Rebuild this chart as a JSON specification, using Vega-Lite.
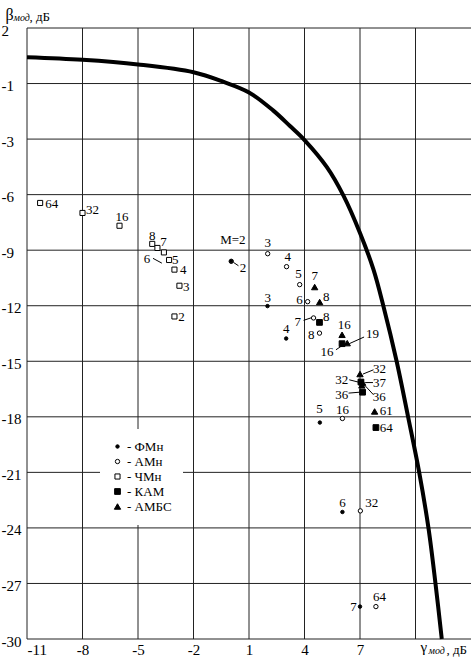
{
  "$schema": "https://vega.github.io/schema/vega-lite/v6.json",
  "width": 444,
  "height": 611,
  "autosize": {"type": "none"},
  "padding": {"left": 27, "top": 28, "right": 2, "bottom": 22},
  "background": "white",
  "config": {
    "view": {"stroke": null},
    "font": "Liberation Serif",
    "axis": {"labelFont": "Liberation Serif", "titleFont": "Liberation Serif", "labelColor": "black", "titleColor": "black", "titleFontWeight": "normal"},
    "legend": {"labelFont": "Liberation Serif"}
  },
  "datasets": {
    "grid": [
      {"g": "v1", "x": -11, "y": -30}, {"g": "v1", "x": -11, "y": 3},
      {"g": "v2", "x": -8, "y": -30}, {"g": "v2", "x": -8, "y": 3},
      {"g": "v3", "x": -5, "y": -30}, {"g": "v3", "x": -5, "y": 3},
      {"g": "v4", "x": -2, "y": -30}, {"g": "v4", "x": -2, "y": 3},
      {"g": "v5", "x": 1, "y": -30}, {"g": "v5", "x": 1, "y": 3},
      {"g": "v6", "x": 4, "y": -30}, {"g": "v6", "x": 4, "y": 3},
      {"g": "v7", "x": 7, "y": -30}, {"g": "v7", "x": 7, "y": 3},
      {"g": "v8", "x": 10, "y": -30}, {"g": "v8", "x": 10, "y": 3},
      {"g": "h1", "x": -11, "y": 3}, {"g": "h1", "x": 13, "y": 3},
      {"g": "h2", "x": -11, "y": 0}, {"g": "h2", "x": 13, "y": 0},
      {"g": "h3", "x": -11, "y": -3}, {"g": "h3", "x": 13, "y": -3},
      {"g": "h4", "x": -11, "y": -6}, {"g": "h4", "x": 13, "y": -6},
      {"g": "h5", "x": -11, "y": -9}, {"g": "h5", "x": 13, "y": -9},
      {"g": "h6", "x": -11, "y": -12}, {"g": "h6", "x": 13, "y": -12},
      {"g": "h7", "x": -11, "y": -15}, {"g": "h7", "x": 13, "y": -15},
      {"g": "h8", "x": -11, "y": -18}, {"g": "h8", "x": 13, "y": -18},
      {"g": "h9", "x": -11, "y": -21}, {"g": "h9", "x": 13, "y": -21},
      {"g": "h10", "x": -11, "y": -24}, {"g": "h10", "x": 13, "y": -24},
      {"g": "h11", "x": -11, "y": -27}, {"g": "h11", "x": 13, "y": -27},
      {"g": "h12", "x": -11, "y": -30}, {"g": "h12", "x": 13, "y": -30}
    ],
    "curve": [
      {"x": -11, "y": 1.42}, {"x": -8, "y": 1.28}, {"x": -5, "y": 1.03}, {"x": -2, "y": 0.61},
      {"x": -0.4, "y": 0.1}, {"x": 1, "y": -0.48}, {"x": 2.3, "y": -1.45}, {"x": 3.2, "y": -2.28},
      {"x": 4.0, "y": -3.05}, {"x": 5.2, "y": -4.5}, {"x": 6.1, "y": -6.04}, {"x": 7.0, "y": -8.07},
      {"x": 7.73, "y": -10.05}, {"x": 8.27, "y": -12.04}, {"x": 8.98, "y": -15.0}, {"x": 9.6, "y": -18.0},
      {"x": 10.2, "y": -21}, {"x": 10.7, "y": -24}, {"x": 11.08, "y": -27}, {"x": 11.42, "y": -30}
    ],
    "points": [
      {"s": "АМн", "M": 2, "x": 0.04, "y": -9.6},
      {"s": "АМн", "M": 3, "x": 2.01, "y": -9.19},
      {"s": "АМн", "M": 4, "x": 3.03, "y": -9.89},
      {"s": "АМн", "M": 5, "x": 3.74, "y": -10.86},
      {"s": "АМн", "M": 6, "x": 4.17, "y": -11.78},
      {"s": "АМн", "M": 7, "x": 4.49, "y": -12.66},
      {"s": "АМн", "M": 8, "x": 4.81, "y": -13.48},
      {"s": "АМн", "M": 16, "x": 6.05, "y": -18.09},
      {"s": "АМн", "M": 32, "x": 7.02, "y": -23.08},
      {"s": "АМн", "M": 64, "x": 7.86, "y": -28.25},
      {"s": "ФМн", "M": 2, "x": 0.04, "y": -9.6},
      {"s": "ФМн", "M": 3, "x": 2.0, "y": -12.02},
      {"s": "ФМн", "M": 4, "x": 3.01, "y": -13.77},
      {"s": "ФМн", "M": 5, "x": 4.83, "y": -18.31},
      {"s": "ФМн", "M": 6, "x": 6.05, "y": -23.14},
      {"s": "ФМн", "M": 7, "x": 7.0, "y": -28.25},
      {"s": "ЧМн", "M": 64, "x": -10.29, "y": -6.45},
      {"s": "ЧМн", "M": 32, "x": -8.0, "y": -6.99},
      {"s": "ЧМн", "M": 16, "x": -6.0, "y": -7.68},
      {"s": "ЧМн", "M": 8, "x": -4.23, "y": -8.66},
      {"s": "ЧМн", "M": 7, "x": -3.95, "y": -8.88},
      {"s": "ЧМн", "M": 6, "x": -3.6, "y": -9.12},
      {"s": "ЧМн", "M": 5, "x": -3.32, "y": -9.53},
      {"s": "ЧМн", "M": 4, "x": -3.03, "y": -10.05},
      {"s": "ЧМн", "M": 3, "x": -2.76, "y": -10.92},
      {"s": "ЧМн", "M": 2, "x": -3.03, "y": -12.58},
      {"s": "КАМ", "M": 8, "x": 4.81, "y": -12.9},
      {"s": "КАМ", "M": 16, "x": 6.03, "y": -14.05},
      {"s": "КАМ", "M": 32, "x": 7.05, "y": -16.12},
      {"s": "КАМ", "M": 36, "x": 7.14, "y": -16.67},
      {"s": "КАМ", "M": 64, "x": 7.86, "y": -18.58},
      {"s": "АМБС", "M": 7, "x": 4.55, "y": -10.99},
      {"s": "АМБС", "M": 8, "x": 4.82, "y": -11.8},
      {"s": "АМБС", "M": 16, "x": 6.03, "y": -13.57},
      {"s": "АМБС", "M": 19, "x": 6.31, "y": -14.02},
      {"s": "АМБС", "M": 32, "x": 7.0, "y": -15.69},
      {"s": "АМБС", "M": 37, "x": 7.14, "y": -16.15},
      {"s": "АМБС", "M": 36, "x": 7.1, "y": -16.3},
      {"s": "АМБС", "M": 61, "x": 7.79, "y": -17.71}
    ],
    "labels": [
      {"t": "64", "lx": -9.66, "ly": -6.49}, {"t": "32", "lx": -7.46, "ly": -6.85},
      {"t": "16", "lx": -5.87, "ly": -7.19}, {"t": "8", "lx": -4.23, "ly": -8.22},
      {"t": "7", "lx": -3.62, "ly": -8.56}, {"t": "6", "lx": -4.52, "ly": -9.48},
      {"t": "5", "lx": -2.99, "ly": -9.53}, {"t": "4", "lx": -2.56, "ly": -10.09},
      {"t": "3", "lx": -2.39, "ly": -10.97}, {"t": "2", "lx": -2.65, "ly": -12.63},
      {"t": "M=2", "lx": 0.13, "ly": -8.47}, {"t": "2", "lx": 0.67, "ly": -9.96},
      {"t": "3", "lx": 2.02, "ly": -11.58}, {"t": "4", "lx": 3.01, "ly": -13.23},
      {"t": "5", "lx": 4.81, "ly": -17.6}, {"t": "6", "lx": 6.05, "ly": -22.63},
      {"t": "7", "lx": 6.65, "ly": -28.25},
      {"t": "3", "lx": 2.02, "ly": -8.61}, {"t": "4", "lx": 3.1, "ly": -9.37},
      {"t": "5", "lx": 3.68, "ly": -10.27}, {"t": "6", "lx": 3.73, "ly": -11.68},
      {"t": "7", "lx": 3.64, "ly": -12.9}, {"t": "8", "lx": 4.36, "ly": -13.58},
      {"t": "16", "lx": 6.05, "ly": -17.62}, {"t": "32", "lx": 7.64, "ly": -22.67},
      {"t": "64", "lx": 8.05, "ly": -27.75},
      {"t": "8", "lx": 5.17, "ly": -12.63}, {"t": "16", "lx": 5.21, "ly": -14.52},
      {"t": "32", "lx": 6.02, "ly": -16.02}, {"t": "36", "lx": 6.02, "ly": -16.84},
      {"t": "64", "lx": 8.42, "ly": -18.61},
      {"t": "7", "lx": 4.56, "ly": -10.42}, {"t": "8", "lx": 5.17, "ly": -11.55},
      {"t": "16", "lx": 6.15, "ly": -13.03}, {"t": "19", "lx": 7.68, "ly": -13.51},
      {"t": "32", "lx": 8.05, "ly": -15.42}, {"t": "37", "lx": 8.05, "ly": -16.18},
      {"t": "36", "lx": 8.04, "ly": -16.93}, {"t": "61", "lx": 8.42, "ly": -17.66}
    ],
    "leaders": [
      {"x": -4.19, "y": -9.44, "x2": -3.71, "y2": -9.7},
      {"x": 0.16, "y": -9.66, "x2": 0.43, "y2": -9.84},
      {"x": 3.95, "y": -12.79, "x2": 4.37, "y2": -12.65},
      {"x": 5.7, "y": -14.38, "x2": 6.1, "y2": -14.11},
      {"x": 6.42, "y": -16.0, "x2": 7.01, "y2": -16.15},
      {"x": 6.38, "y": -16.72, "x2": 7.1, "y2": -16.66},
      {"x": 6.42, "y": -14.05, "x2": 7.22, "y2": -13.69},
      {"x": 7.16, "y": -15.69, "x2": 7.73, "y2": -15.46},
      {"x": 7.28, "y": -16.15, "x2": 7.7, "y2": -16.15},
      {"x": 7.23, "y": -16.27, "x2": 7.73, "y2": -16.81}
    ]
  },
  "layer": [
    {
      "data": {"name": "grid"},
      "mark": {"type": "line", "color": "#222", "strokeWidth": 1},
      "encoding": {
        "x": {"field": "x", "type": "quantitative", "scale": {"domain": [-11, 13], "nice": false, "zero": false}, "axis": null},
        "y": {"field": "y", "type": "quantitative", "scale": {"domain": [-30, 3], "nice": false, "zero": false}, "axis": null},
        "detail": {"field": "g", "type": "nominal"}
      }
    },
    {
      "data": {"name": "curve"},
      "mark": {"type": "line", "color": "black", "strokeWidth": 4, "interpolate": "catmull-rom"},
      "encoding": {
        "x": {"field": "x", "type": "quantitative",
          "axis": {"orient": "bottom", "title": "γ", "titleX": 393, "titleY": 12, "titleAlign": "left", "titleBaseline": "alphabetic", "titleFontSize": 15,
            "labels": false, "ticks": false, "domain": false, "grid": false}},
        "y": {"field": "y", "type": "quantitative",
          "axis": {"orient": "left", "title": "β", "titleX": -22, "titleY": -9, "titleAngle": 0, "titleAlign": "left", "titleBaseline": "alphabetic", "titleFontSize": 16,
            "labels": false, "ticks": false, "domain": false, "grid": false}}
      }
    },
    {
      "data": {"name": "leaders"},
      "mark": {"type": "rule", "color": "black", "strokeWidth": 1},
      "encoding": {
        "x": {"field": "x", "type": "quantitative",
          "axis": {"orient": "bottom", "title": "мод", "titleFontStyle": "italic", "titleFontSize": 10, "titleX": 401, "titleY": 14, "titleAlign": "left", "titleBaseline": "alphabetic",
            "labels": false, "ticks": false, "domain": false, "grid": false}},
        "y": {"field": "y", "type": "quantitative",
          "axis": {"orient": "left", "title": "мод", "titleFontStyle": "italic", "titleFontSize": 10, "titleX": -14, "titleY": -8, "titleAngle": 0, "titleAlign": "left", "titleBaseline": "alphabetic",
            "labels": false, "ticks": false, "domain": false, "grid": false}},
        "x2": {"field": "x2"},
        "y2": {"field": "y2"}
      }
    },
    {
      "data": {"name": "points"},
      "mark": {"type": "point", "filled": true, "stroke": "black", "strokeWidth": 1, "opacity": 1},
      "encoding": {
        "x": {"field": "x", "type": "quantitative",
          "axis": {"orient": "bottom", "title": ", дБ", "titleFontSize": 13, "titleX": 419, "titleY": 14, "titleAlign": "left", "titleBaseline": "alphabetic",
            "labels": false, "ticks": false, "domain": false, "grid": false}},
        "y": {"field": "y", "type": "quantitative",
          "axis": {"orient": "left", "title": ", дБ", "titleFontSize": 13, "titleX": 2, "titleY": -8, "titleAngle": 0, "titleAlign": "left", "titleBaseline": "alphabetic",
            "labels": false, "ticks": false, "domain": false, "grid": false}},
        "shape": {"field": "s", "type": "nominal",
          "scale": {"domain": ["ФМн", "АМн", "ЧМн", "КАМ", "АМБС"], "range": ["circle", "circle", "square", "square", "triangle-up"]},
          "legend": {"orient": "none", "legendX": 73, "legendY": 401, "title": null, "padding": 11, "fillColor": "white",
            "labelFontSize": 13, "labelExpr": "'- ' + datum.label", "rowPadding": 1, "labelOffset": 3,
            "symbolStrokeColor": "black", "symbolStrokeWidth": 1}},
        "fill": {"field": "s", "type": "nominal",
          "scale": {"domain": ["ФМн", "АМн", "ЧМн", "КАМ", "АМБС"], "range": ["black", "white", "white", "black", "black"]}},
        "size": {"field": "s", "type": "nominal",
          "scale": {"domain": ["ФМн", "АМн", "ЧМн", "КАМ", "АМБС"], "range": [12, 40, 18, 26, 38]}}
      }
    },
    {
      "data": {"name": "labels"},
      "mark": {"type": "text", "font": "Liberation Serif", "fontSize": 13, "align": "center", "baseline": "middle", "color": "black"},
      "encoding": {
        "x": {"field": "lx", "type": "quantitative",
          "axis": {"orient": "bottom", "values": [-11, -8, -5, -2, 1, 4, 7, 10], "grid": false,
            "ticks": false, "domain": false, "labelFontSize": 15, "labelPadding": 3,
            "labelExpr": "datum.value == 10 ? '' : toString(datum.value)", "title": null}},
        "y": {"field": "ly", "type": "quantitative",
          "axis": {"orient": "left", "values": [3, 0, -3, -6, -9, -12, -15, -18, -21, -24, -27, -30], "grid": false,
            "ticks": false, "domain": false, "labelFontSize": 15, "labelPadding": 26,
            "labelAlign": "left", "labelBaseline": "middle", "labelOffset": 2,
            "labelExpr": "datum.value == 3 ? '2' : datum.value == 0 ? '-1' : toString(datum.value)", "title": null}},
        "text": {"field": "t", "type": "nominal"}
      }
    }
  ],
  "resolve": {"axis": {"x": "independent", "y": "independent"}}
}
